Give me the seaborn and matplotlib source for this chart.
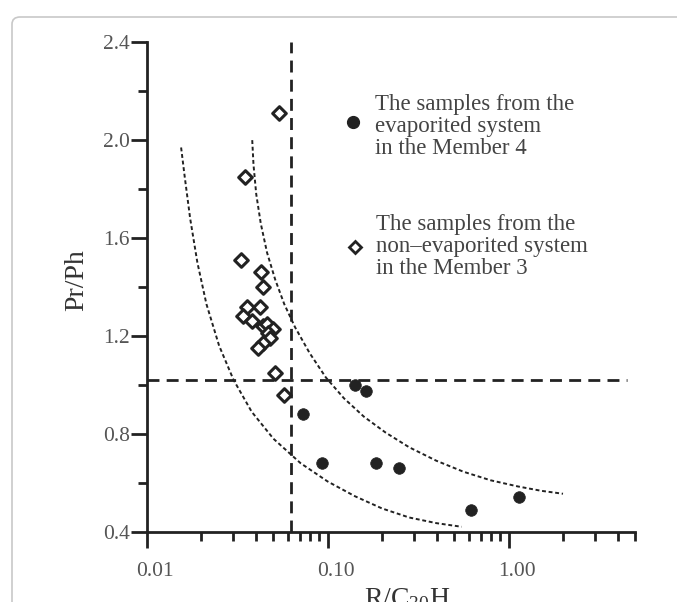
import numpy as np
import pandas as pd
import matplotlib
matplotlib.use("Agg")
import matplotlib.pyplot as plt
import matplotlib.transforms as mtransforms
from matplotlib.patches import FancyBboxPatch
from matplotlib.ticker import FixedLocator, FixedFormatter, NullFormatter
import seaborn as sns

# pontos lidos do grafico
# sistema evaporitico (Member 4) - circulos cheios
evap_x = [0.141, 0.163, 0.073, 0.093, 0.185, 0.248, 0.619, 1.14]
evap_y = [1.00, 0.976, 0.881, 0.680, 0.680, 0.660, 0.489, 0.541]

# sistema nao evaporitico (Member 3) - losangos vazados
nonevap_x = [0.054, 0.035, 0.033, 0.043, 0.044, 0.036, 0.042, 0.034, 0.038,
             0.044, 0.046, 0.050, 0.047, 0.048, 0.044, 0.041, 0.051, 0.057]
nonevap_y = [2.11, 1.85, 1.51, 1.46, 1.40, 1.32, 1.32, 1.28, 1.26,
             1.24, 1.25, 1.23, 1.21, 1.19, 1.17, 1.15, 1.05, 0.96]

# curvas pontilhadas
curva1_x = [0.01549, 0.01622, 0.01738, 0.01905, 0.02138, 0.02512, 0.03020, 0.03802,
            0.05012, 0.07079, 0.1, 0.1413, 0.1995, 0.2818, 0.3981, 0.5495]
curva1_y = [1.97, 1.85, 1.68, 1.50, 1.33, 1.16, 1.02, 0.89,
            0.78, 0.68, 0.605, 0.545, 0.495, 0.458, 0.435, 0.42]
curva2_x = [0.03828, 0.03890, 0.04027, 0.04266, 0.04624, 0.05129, 0.05754, 0.06607,
            0.07943, 0.09772, 0.1230, 0.1585, 0.2089, 0.2818, 0.3981, 0.5623,
            0.7943, 1.122, 1.514, 1.995]
curva2_y = [2.00, 1.90, 1.78, 1.66, 1.54, 1.43, 1.33, 1.235,
            1.13, 1.03, 0.945, 0.87, 0.805, 0.745, 0.69, 0.645,
            0.61, 0.585, 0.567, 0.555]

# linhas de corte
corte_x = 0.063
corte_y = 1.02
corte_y_fim = 4.5

yticks = [0.4, 0.8, 1.2, 1.6, 2.0, 2.4]
yticks_menor = [0.6, 1.0, 1.4, 1.8, 2.2]
xticks = [0.01, 0.1, 1.0]
xticks_rotulos = ["0.01", "0.10", "1.00"]
xticks_menor = [m * d for d in (0.01, 0.1) for m in range(2, 10)] + [2.0, 3.0, 4.0, 5.0]

legenda1 = ["The samples from the", "evaporited system", "in the Member 4"]
legenda2 = ["The samples from the", "non\u2013evaporited system", "in the Member 3"]

sns.set_theme(style="white")
plt.rcParams['font.family'] = ['Liberation Serif', 'DejaVu Serif']
plt.rcParams['mathtext.fontset'] = 'custom'
plt.rcParams['mathtext.rm'] = 'Liberation Serif'
plt.rcParams['mathtext.it'] = 'Liberation Serif:italic'

escuro = "#222222"
texto = "#444444"

fig = plt.figure(figsize=(6.77, 6.02), dpi=100)
ax = fig.add_axes([0.2167, 0.1168, 0.7216, 0.813])

df_evap = pd.DataFrame({"x": evap_x, "y": evap_y})
df_non = pd.DataFrame({"x": nonevap_x, "y": nonevap_y})

sns.lineplot(x=curva1_x, y=curva1_y, ax=ax, sort=False, estimator=None,
             color=escuro, lw=1.4, linestyle=(0, (2, 1.4)))
sns.lineplot(x=curva2_x, y=curva2_y, ax=ax, sort=False, estimator=None,
             color=escuro, lw=1.4, linestyle=(0, (2, 1.4)))

ax.axvline(corte_x, color=escuro, lw=2.0, linestyle=(0, (4.3, 2.6)))
ax.hlines(corte_y, 0.01, corte_y_fim, color=escuro, lw=2.0, linestyle=(0, (4.3, 2.6)))

sns.scatterplot(data=df_non, x="x", y="y", ax=ax, marker="D", s=48,
                facecolor="white", edgecolor=escuro, linewidth=2.2, zorder=5)
sns.scatterplot(data=df_evap, x="x", y="y", ax=ax, marker="o", s=70,
                color=escuro, edgecolor=escuro, linewidth=0.5, zorder=5)

ax.set_xscale("log")
ax.set_xlim(0.01, 5.0)
ax.set_ylim(0.4, 2.4)

ax.xaxis.set_major_locator(FixedLocator(xticks))
ax.xaxis.set_major_formatter(FixedFormatter(xticks_rotulos))
ax.xaxis.set_minor_locator(FixedLocator(xticks_menor))
ax.xaxis.set_minor_formatter(NullFormatter())
ax.yaxis.set_major_locator(FixedLocator(yticks))
ax.yaxis.set_minor_locator(FixedLocator(yticks_menor))
ax.yaxis.set_major_formatter(plt.FormatStrFormatter("%.1f"))

for s in ["top", "right"]:
    ax.spines[s].set_visible(False)
for s in ["left", "bottom"]:
    ax.spines[s].set_color(escuro)
    ax.spines[s].set_linewidth(2.0)

ax.tick_params(axis="both", which="both", bottom=True, left=True, top=False, right=False)
ax.tick_params(axis="both", which="major", direction="out", length=11.5, width=2.0,
               color=escuro, labelsize=15.5, labelcolor="#555555")
ax.tick_params(axis="both", which="minor", direction="out", length=6.5, width=2.0,
               color=escuro)
ax.tick_params(axis="x", which="major", pad=10)
ax.tick_params(axis="y", which="major", pad=0.5)

# rotulos do eixo x levemente deslocados para a direita
desloc = mtransforms.ScaledTranslation(8 / 100, 0, fig.dpi_scale_trans)
for lbl in ax.get_xticklabels():
    lbl.set_transform(lbl.get_transform() + desloc)

ax.set_ylabel("Pr/Ph", fontsize=20, color="#333333")
ax.yaxis.set_label_coords(-0.118, 0.513)
ax.set_xlabel(r"R/C$_{\mathrm{30}}$H", fontsize=20, color="#333333")
ax.xaxis.set_label_coords(0.534, -0.112)

# legenda manual
fig.lines.append(plt.Line2D([353 / 677], [1 - 121.6 / 602], transform=fig.transFigure,
                            marker="o", markersize=8.5, color=escuro, linestyle="none"))
fig.lines.append(plt.Line2D([355 / 677], [1 - 247.3 / 602], transform=fig.transFigure,
                            marker="D", markersize=6.5, markerfacecolor="white",
                            markeredgecolor=escuro, markeredgewidth=2.0, linestyle="none"))
for i, linha in enumerate(legenda1):
    fig.text(375 / 677, 1 - (104.4 + i * 22) / 602, linha, fontsize=16.5,
             color=texto, va="center", ha="left")
for i, linha in enumerate(legenda2):
    fig.text(376.5 / 677, 1 - (224.4 + i * 22) / 602, linha, fontsize=16.5,
             color=texto, va="center", ha="left")

# moldura arredondada
moldura = FancyBboxPatch((12 / 677, -0.05), 1.2, 1 - 17 / 602 + 0.05,
                         boxstyle="round,pad=0,rounding_size=0.012",
                         transform=fig.transFigure, facecolor="none",
                         edgecolor="#c8c8c8", lw=1.2, clip_on=False)
fig.patches.append(moldura)

fig.savefig("out.png", dpi=100)
